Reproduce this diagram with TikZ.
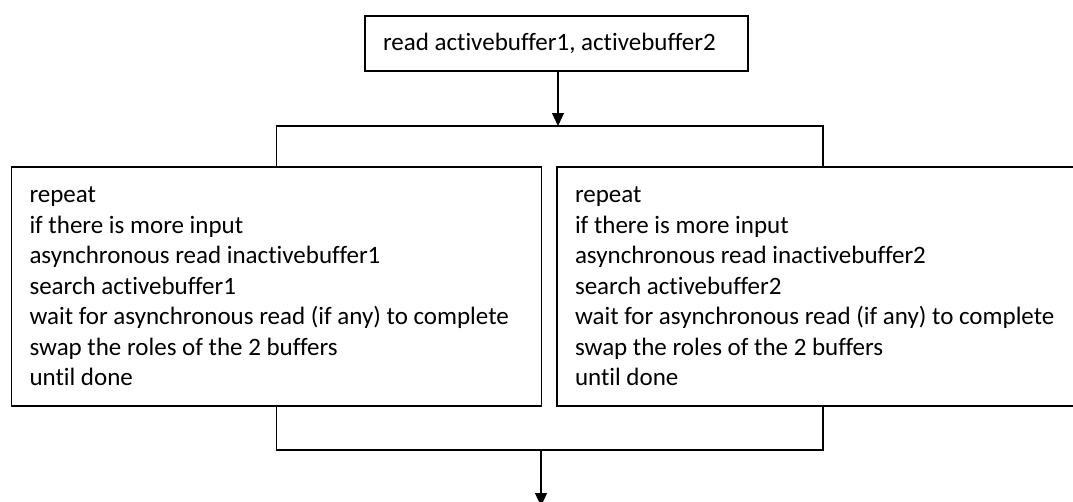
\documentclass[tikz,border=0pt]{standalone}
\usepackage{fontspec}
\setmainfont{Carlito}[Ligatures=CommonOff]
\usetikzlibrary{arrows.meta,positioning}

\tikzset{
	box/.style={draw, line width=1.2bp, inner xsep=18bp, inner ysep=0bp, align=flush left,
		font=\fontsize{25bp}{30.5bp}\selectfont},
	link/.style={line width=1.2bp}
}

\begin{document}
\begin{tikzpicture}[>={Triangle[length=13bp,width=12bp]}]
	\useasboundingbox (0bp,0bp) rectangle (1073bp,-502bp);
	\clip (0bp,0bp) rectangle (1073bp,-502bp);

	\node[box, text width=347bp, minimum height=55bp] (read) at (556.5bp,-43.5bp)
		{read activebuffer1, activebuffer2};
	\node[box, text width=494bp, minimum height=239bp] (loopA) at (276.5bp,-286.5bp)
		{repeat\\
		 if there is more input\\
		 asynchronous read inactivebuffer1\\
		 search activebuffer1\\
		 wait for asynchronous read (if any) to complete\\
		 swap the roles of the 2 buffers\\
		 until done};
	\node[box, text width=496bp, minimum height=239bp] (loopB) at (823bp,-286.5bp)
		{repeat\\
		 if there is more input\\
		 asynchronous read inactivebuffer2\\
		 search activebuffer2\\
		 wait for asynchronous read (if any) to complete\\
		 swap the roles of the 2 buffers\\
		 until done};

	\coordinate (fork) at (558bp,-126bp);
	\coordinate (join) at (541bp,-450bp);
	\coordinate (out)  at (541bp,-506bp);

	\draw [link,->] (read.south -| fork) -- (fork);
	\draw [link] (loopA.north) -- (loopA.north |- fork) -- (loopB.north |- fork) -- (loopB.north);
	\draw [link] (loopA.south) -- (loopA.south |- join) -- (loopB.south |- join) -- (loopB.south);
	\draw [link,->] (join) -- (out);
\end{tikzpicture}
\end{document}
